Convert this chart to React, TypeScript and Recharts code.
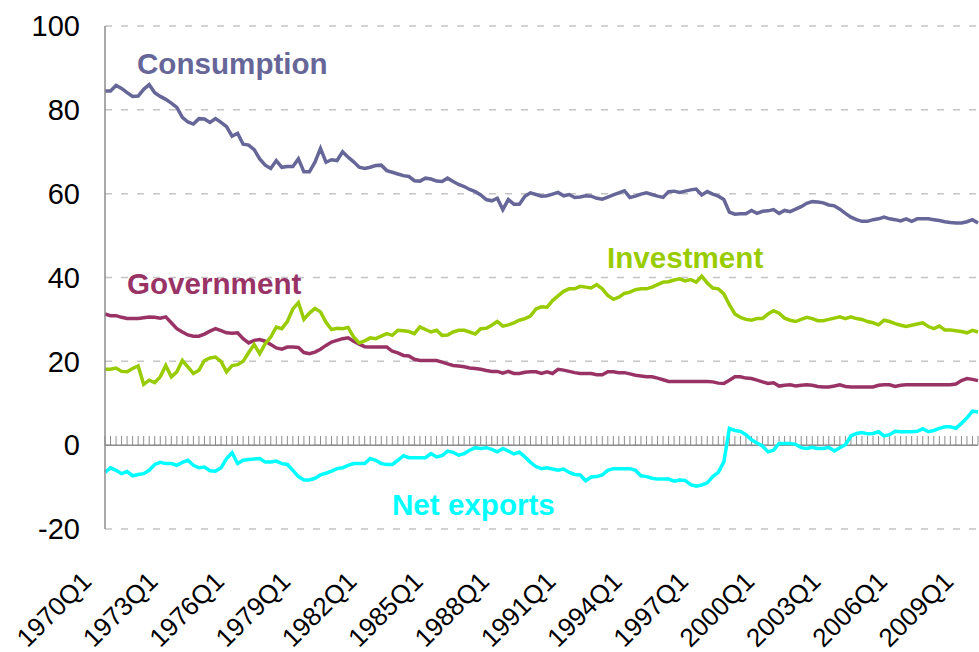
import { LineChart, Line, XAxis, YAxis, CartesianGrid, ReferenceLine } from 'recharts';

const FONT = '"Liberation Sans", Arial, Helvetica, sans-serif';

// 1970Q1 .. 2009Q3
const quarters: string[] = [];
for (let y = 1970; y <= 2009; y++) {
  for (let q = 1; q <= 4; q++) quarters.push(`${y}Q${q}`);
}
quarters.length = 159;

const consumption = [
  84.5, 84.5, 85.8, 85.1, 84.1, 83.2, 83.3, 84.9, 86.0, 84.1,
  83.2, 82.5, 81.6, 80.6, 78.2, 77.1, 76.6, 77.9, 77.8, 77.0,
  77.9, 77.0, 76.0, 73.7, 74.4, 71.8, 71.6, 70.5, 68.3, 66.8,
  66.0, 67.9, 66.3, 66.5, 66.5, 68.3, 65.2, 65.2, 67.5, 70.8,
  67.5, 68.1, 67.9, 70.0, 68.7, 67.6, 66.3, 66.0, 66.3, 66.7,
  66.8, 65.5, 65.1, 64.7, 64.3, 64.1, 63.1, 63.0, 63.7, 63.5,
  63.0, 62.9, 63.7, 62.9, 62.2, 61.7, 61.0, 60.5, 59.7, 58.6,
  58.3, 58.9, 56.2, 58.6, 57.5, 57.5, 59.4, 60.2, 59.8, 59.4,
  59.5, 59.9, 60.3, 59.5, 59.8, 59.1, 59.2, 59.5, 59.4, 58.9,
  58.7, 59.2, 59.7, 60.2, 60.7, 59.1, 59.4, 59.9, 60.2, 59.8,
  59.4, 59.1, 60.5, 60.6, 60.3, 60.6, 60.9, 61.1, 59.7, 60.5,
  59.9, 59.4, 58.6, 55.6, 55.1, 55.2, 55.2, 56.0, 55.3, 55.8,
  55.9, 56.2, 55.3, 56.0, 55.7, 56.3, 56.9, 57.7, 58.1, 58.0,
  57.8, 57.3, 57.1, 56.3, 55.3, 54.4, 53.8, 53.4, 53.4, 53.8,
  54.0, 54.4, 54.0, 53.8, 53.5, 54.0, 53.4, 54.0, 54.0, 54.0,
  53.8, 53.6, 53.3, 53.1, 53.0, 53.0, 53.3, 53.8, 53.0,
];

const government = [
  31.3, 30.9, 30.9, 30.5, 30.2, 30.2, 30.2, 30.4, 30.6, 30.5,
  30.3, 30.6, 29.2, 27.8, 27.0, 26.3, 26.0, 26.0, 26.5, 27.2,
  27.8, 27.3, 26.8, 26.7, 26.8, 25.4, 24.4, 25.0, 25.2, 24.8,
  24.0, 23.2, 22.9, 23.4, 23.4, 23.3, 22.1, 21.8, 22.2, 22.9,
  23.8, 24.6, 25.0, 25.4, 25.6, 24.8, 24.1, 23.5, 23.4, 23.4,
  23.4, 23.4, 22.4, 22.0, 21.4, 21.3, 20.5, 20.2, 20.2, 20.2,
  20.2, 19.8, 19.4, 19.0, 18.9, 18.7, 18.4, 18.3, 18.1, 17.8,
  17.6, 17.6, 17.2, 17.6, 17.1, 17.1, 17.4, 17.5, 17.5, 17.1,
  17.5, 17.1, 18.1, 17.9, 17.6, 17.3, 17.1, 17.1, 17.1, 16.8,
  16.8, 17.5, 17.5, 17.3, 17.3, 17.0, 16.7, 16.5, 16.3, 16.3,
  16.0, 15.6, 15.2, 15.2, 15.2, 15.2, 15.2, 15.2, 15.2, 15.2,
  15.1, 14.8, 14.7, 15.5, 16.3, 16.3, 16.0, 15.9, 15.5, 15.1,
  14.7, 14.9, 14.1, 14.3, 14.4, 14.1, 14.3, 14.4, 14.3, 14.0,
  13.9, 13.9, 14.1, 14.4, 14.0, 13.9, 13.9, 13.9, 13.9, 13.9,
  14.3, 14.4, 14.4, 14.0, 14.3, 14.4, 14.4, 14.4, 14.4, 14.4,
  14.4, 14.4, 14.4, 14.4, 14.6, 15.4, 15.9, 15.7, 15.4,
];

const investment = [
  18.1, 18.1, 18.4, 17.6, 17.5, 18.3, 18.9, 14.5, 15.5, 14.9,
  16.3, 19.0, 16.3, 17.5, 20.2, 18.7, 17.1, 17.9, 20.2, 20.8,
  21.0, 20.0, 17.5, 19.0, 19.2, 20.0, 22.1, 24.0, 21.8, 24.2,
  25.8, 28.2, 27.8, 29.5, 32.5, 34.0, 30.0, 31.5, 32.6, 31.8,
  29.3, 27.6, 27.9, 27.8, 28.1, 25.8, 24.4, 24.9, 25.6, 25.4,
  26.0, 26.6, 26.2, 27.4, 27.3, 27.1, 26.6, 28.2, 27.6, 27.0,
  27.4, 26.2, 26.3, 27.0, 27.4, 27.4, 27.0, 26.5, 27.8, 27.9,
  28.6, 29.5, 28.4, 28.7, 29.2, 29.8, 30.2, 30.8, 32.5, 33.0,
  32.9, 34.5, 35.6, 36.7, 37.3, 37.3, 37.9, 37.7, 37.5, 38.3,
  37.3, 35.7, 34.8, 35.3, 36.2, 36.5, 37.1, 37.3, 37.3, 37.7,
  38.3, 38.9, 39.0, 39.4, 39.7, 39.2, 39.5, 38.9, 40.3, 38.7,
  37.5, 37.3, 36.1, 33.5, 31.3, 30.5, 30.0, 29.8, 30.2, 30.2,
  31.3, 32.1, 31.5, 30.3, 29.8, 29.5, 30.0, 30.5, 30.2, 29.7,
  29.7, 30.0, 30.3, 30.6, 30.2, 30.6, 30.2, 30.0, 29.5, 29.2,
  28.7, 29.8, 29.5, 29.0, 28.6, 28.3, 28.6, 28.9, 29.2, 28.3,
  27.8, 28.4, 27.5, 27.5, 27.3, 27.1, 26.8, 27.4, 27.0,
];

const netExports = [
  -6.5, -5.4, -6.0, -6.8, -6.3, -7.3, -7.0, -6.8, -6.0, -4.6,
  -4.1, -4.4, -4.4, -4.8, -4.1, -3.6, -4.8, -5.4, -5.2, -6.1,
  -6.2, -5.4, -3.2, -1.8, -4.4, -3.6, -3.4, -3.3, -3.2, -4.0,
  -4.0, -3.8, -4.4, -4.6, -6.0, -7.5, -8.3, -8.3, -7.9, -7.1,
  -6.7, -6.2, -5.6, -5.4, -4.8, -4.4, -4.4, -4.4, -3.2, -3.6,
  -4.4, -4.6, -4.6, -3.6, -2.5, -3.0, -3.0, -3.0, -3.0, -2.0,
  -2.8, -2.5, -1.4, -1.7, -2.4, -2.0, -1.2, -0.6, -0.8, -0.6,
  -1.0, -1.6, -0.8, -1.4, -2.1, -1.7, -2.8, -4.1, -5.1, -5.6,
  -5.4, -5.7, -6.0, -5.7, -6.5, -7.0, -7.1, -8.5, -7.6, -7.5,
  -7.1, -6.0, -5.6, -5.6, -5.6, -5.6, -6.0, -7.3, -7.5, -7.9,
  -8.1, -8.1, -8.1, -8.6, -8.3, -8.4, -9.4, -9.8, -9.5, -9.0,
  -7.5, -6.5, -4.0, 4.0, 3.5, 3.3, 2.5, 1.3, 0.5, -0.2,
  -1.6, -1.2, 0.4, 0.4, 0.4, 0.2, -0.6, -0.8, -0.5, -0.8,
  -0.8, -0.5, -1.4, -0.6, 0.1, 2.2, 2.8, 3.0, 2.7, 2.8,
  3.2, 2.2, 2.5, 3.3, 3.2, 3.2, 3.2, 3.3, 3.9, 3.2,
  3.5, 4.0, 4.4, 4.4, 4.0, 5.2, 6.5, 8.1, 7.9,
];

const yTicks = [-20, 0, 20, 40, 60, 80, 100];

const data = quarters.map((q, i) => ({
  q,
  consumption: consumption[i],
  government: government[i],
  investment: investment[i],
  netExports: netExports[i],
}));

const QuarterTick = (props: any) => {
  const { x, y, payload } = props;
  return (
    <g transform={`translate(${x - 12},${y + 52})`}>
      <text textAnchor="end" transform="rotate(-45)" fontSize={26} fontFamily={FONT} fill="#000">
        {payload.value}
      </text>
    </g>
  );
};

export default function App() {
  return (
    <div style={{ position: 'absolute', left: 0, top: 0, width: 979, height: 652, overflow: 'hidden', background: '#fff' }}>
      <LineChart width={979} height={652} data={data} margin={{ top: 26, right: 1, bottom: 0, left: 0 }}>
        <CartesianGrid vertical={false} stroke="#c4c4c4" strokeWidth={1.5} strokeDasharray="7 9" />
        <XAxis
          dataKey="q"
          height={123}
          interval={11}
          axisLine={false}
          tickLine={false}
          tickSize={0}
          tick={<QuarterTick />}
        />
        <YAxis
          width={105}
          domain={[-20, 100]}
          ticks={yTicks}
          axisLine={{ stroke: '#8c8c8c', strokeWidth: 1.5 }}
          tickLine={false}
          tickSize={0}
          tickMargin={25}
          tick={{ fontSize: 29, fontFamily: FONT, fill: '#000' }}
        />

        {/* quarter tick marks sitting on the zero line */}
        {quarters.map((q) => (
          <ReferenceLine key={q} segment={[{ x: q, y: 0 }, { x: q, y: 2.2 }]} stroke="#8c8c8c" strokeWidth={1} />
        ))}
        <ReferenceLine y={0} stroke="#8c8c8c" strokeWidth={1.5} />

        <Line type="linear" dataKey="consumption" stroke="#666699" strokeWidth={3.5} dot={false} isAnimationActive={false} />
        <Line type="linear" dataKey="government" stroke="#993366" strokeWidth={3.5} dot={false} isAnimationActive={false} />
        <Line type="linear" dataKey="investment" stroke="#99CC00" strokeWidth={3.5} dot={false} isAnimationActive={false} />
        <Line type="linear" dataKey="netExports" stroke="#00FFFF" strokeWidth={3.5} dot={false} isAnimationActive={false} />
      </LineChart>

      {/* series labels */}
      <svg width={979} height={652} style={{ position: 'absolute', left: 0, top: 0, pointerEvents: 'none' }}>
        <g fontFamily={FONT} fontWeight="bold" fontSize={29.6}>
          <text x={137} y={74} fill="#666699">Consumption</text>
          <text x={127} y={294} fill="#993366">Government</text>
          <text x={607} y={268} fill="#99CC00">Investment</text>
          <text x={392} y={515} fill="#00FFFF">Net exports</text>
        </g>
      </svg>
    </div>
  );
}
